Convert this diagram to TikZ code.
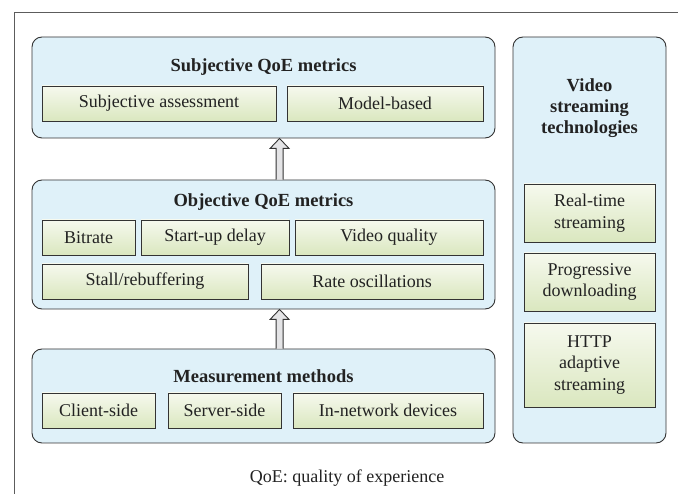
\documentclass[tikz,border=0pt]{standalone}
\usepackage{fontspec}
\setmainfont{Liberation Serif}
\usetikzlibrary{calc}

\definecolor{panelblue}{HTML}{DFF1F9}
\definecolor{itemtop}{HTML}{F6F9EE}
\definecolor{itembot}{HTML}{DAE7BF}
\definecolor{edge}{HTML}{333333}
\definecolor{ink}{HTML}{222222}
\definecolor{arrowfill}{HTML}{E4E4E6}

\tikzset{
  panel/.style={draw=edge, line width=0.9pt, fill=panelblue, rounded corners=10pt, inner sep=0pt},
  item/.style={draw=edge, line width=0.9pt, top color=itemtop, bottom color=itembot,
    inner sep=0pt, align=center, text=ink, font=\fontsize{18}{21.5}\selectfont},
  heading/.style={font=\bfseries\fontsize{18.5}{21}\selectfont, text=ink, align=center, inner sep=0pt},
  fatarrow/.style={draw=edge, line width=0.9pt, fill=arrowfill, line join=miter},
  frame/.style={draw=edge!80, line width=0.8pt}
}

% box given by its top-left and bottom-right corners (y grows downwards)
\newcommand\placebox[7][]{%
  \node[#1, minimum width={#5-#3}, minimum height={#6-#4}]
    (#2) at ({(#3+#5)/2},{(#4+#6)/2}) {#7};}

\begin{document}
\begin{tikzpicture}[x=1pt,y=-1pt]
\useasboundingbox (0,0) rectangle (678,494);

% outer frame (top and left rules)
\coordinate (ftl) at (14,12);
\coordinate (ftr) at (678,12);
\coordinate (fbl) at (14,494);
\draw[frame] (ftr) -- (ftl) -- (fbl);

% panels
\placebox[panel]{subj}{32}{37}{495}{138}{}
\placebox[panel]{obj}{32}{180}{495}{309}{}
\placebox[panel]{meas}{32}{349}{495}{443}{}
\placebox[panel]{tech}{513}{37}{666}{443}{}

% panel headings
\node[heading] (subjT) at (263.5,67) {Subjective QoE metrics};
\node[heading] (objT) at (263.5,202) {Objective QoE metrics};
\node[heading] (measT) at (263.5,376) {Measurement methods};
\node[heading] (techT) at (589.5,108) {Video\\streaming\\technologies};

% subjective metrics
\placebox[item]{sa}{42}{86}{276}{121}{Subjective assessment}
\placebox[item]{mb}{287}{86}{483}{121}{Model-based}

% objective metrics
\placebox[item]{br}{42}{220}{135}{255}{Bitrate}
\placebox[item]{sd}{141}{220}{289}{255}{Start-up delay}
\placebox[item]{vq}{295}{220}{483}{255}{Video quality}
\placebox[item]{st}{42}{264}{248}{299}{Stall/rebuffering}
\placebox[item]{ro}{261}{264}{483}{299}{Rate oscillations}

% measurement methods
\placebox[item]{cs}{42}{393}{155}{428}{Client-side}
\placebox[item]{ss}{168}{393}{281}{428}{Server-side}
\placebox[item]{in}{293}{393}{483}{428}{In-network devices}

% streaming technologies
\placebox[item]{rt}{524}{184}{655}{242}{Real-time\\streaming}
\placebox[item]{pd}{524}{253}{655}{311}{Progressive\\downloading}
\placebox[item]{ha}{524}{323}{655}{407}{HTTP\\adaptive\\streaming}

% hollow block arrows between layers
\draw[fatarrow]
  ($(obj.north west)+(244.5,0)$) -- ($(subj.south west)+(244.5,10)$) --
  ($(subj.south west)+(238.5,10)$) -- ($(subj.south west)+(248,0)$) --
  ($(subj.south west)+(257.5,10)$) -- ($(subj.south west)+(251.5,10)$) --
  ($(obj.north west)+(251.5,0)$);
\draw[fatarrow]
  ($(meas.north west)+(244.5,0)$) -- ($(obj.south west)+(244.5,10)$) --
  ($(obj.south west)+(238.5,10)$) -- ($(obj.south west)+(248,0)$) --
  ($(obj.south west)+(257.5,10)$) -- ($(obj.south west)+(251.5,10)$) --
  ($(meas.north west)+(251.5,0)$);

% footnote
\node[font=\fontsize{18}{21}\selectfont, text=ink, inner sep=0pt] (note) at (347,478) {QoE: quality of experience};
\end{tikzpicture}
\end{document}
